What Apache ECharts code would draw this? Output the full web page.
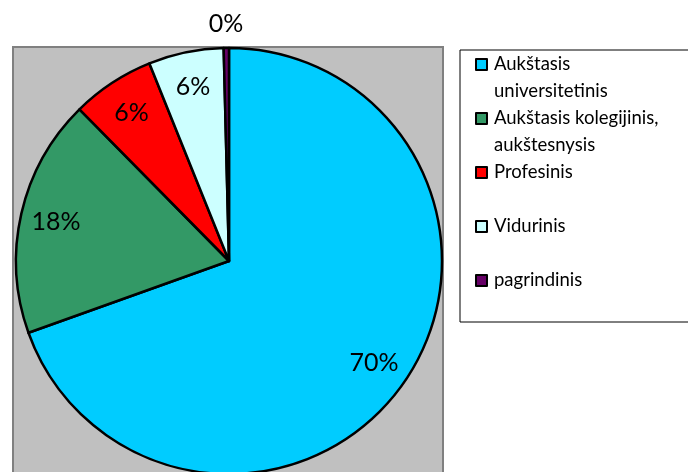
<!DOCTYPE html>
<html>
<head>
<meta charset="utf-8">
<script src="https://cdn.jsdelivr.net/npm/echarts@6/dist/echarts.min.js"></script>
<style>
html, body { margin: 0; padding: 0; background: #fff; }
#chart { width: 688px; height: 472px; }
</style>
</head>
<body>
<div id="chart"></div>
<script>
// education level shares
var names = ['Aukštasis universitetinis', 'Aukštasis kolegijinis, aukštesnysis', 'Profesinis', 'Vidurinis', 'pagrindinis'];
var values = [69.6, 18.1, 6.3, 5.7, 0.4];
var colors = ['#00ccff', '#339966', '#ff0000', '#ccffff', '#660066'];
// legend text as it wraps in the original box
var legendLines = ['Aukštasis\nuniversitetinis', 'Aukštasis kolegijinis,\naukštesnysis', 'Profesinis\n ', 'Vidurinis\n ', 'pagrindinis\n '];

var font = 'Lato';
var myChart = echarts.init(document.getElementById('chart'));

var sliceData = [];
var labelData = [];
for (var i = 0; i < names.length; i++) {
    sliceData.push({ name: names[i], value: values[i], itemStyle: { color: colors[i] } });
    var item = { name: names[i], value: values[i] };
    if (i === names.length - 1) {
        // tiny slice: label sits above the pie
        item.label = { position: 'outside' };
        item.labelLine = { show: false, length: 24, length2: 0 };
    }
    labelData.push(item);
}

var option = {
    backgroundColor: '#fff',
    animation: false,
    graphic: [{
        type: 'rect',
        z: 0,
        shape: { x: 13, y: 47, width: 430, height: 440 },
        style: { fill: '#c0c0c0', stroke: '#808080', lineWidth: 2 }
    }],
    legend: {
        orient: 'vertical',
        left: 460,
        top: 50,
        padding: [1, 40, 1, 14],
        itemGap: 0,
        itemWidth: 14,
        itemHeight: 52,
        icon: 'path://M0,0M1,7h11v11h-11zM14,52',
        borderColor: '#000',
        borderWidth: 1,
        selectedMode: false,
        data: names,
        formatter: function (name) {
            return legendLines[names.indexOf(name)];
        },
        textStyle: { fontFamily: font, fontSize: 18.5, lineHeight: 27, color: '#000' }
    },
    series: [
        {
            type: 'pie',
            center: [229, 261],
            radius: 213,
            startAngle: 90,
            silent: true,
            avoidLabelOverlap: false,
            itemStyle: { borderColor: '#000', borderWidth: 2.5 },
            label: { show: false },
            labelLine: { show: false },
            data: sliceData
        },
        {
            type: 'pie',
            center: [229, 261],
            radius: [136, 213],
            startAngle: 90,
            silent: true,
            avoidLabelOverlap: false,
            itemStyle: { color: 'rgba(0,0,0,0)', borderWidth: 0 },
            label: {
                show: true,
                position: 'inside',
                color: '#000',
                fontFamily: font,
                fontSize: 25,
                formatter: function (p) {
                    return Math.round(p.percent) + '%';
                }
            },
            labelLayout: function (p) {
                if (p.dataIndex === names.length - 1) {
                    return { align: 'center', dx: 5 };
                }
            },
            data: labelData
        }
    ]
};

myChart.setOption(option);
</script>
</body>
</html>
